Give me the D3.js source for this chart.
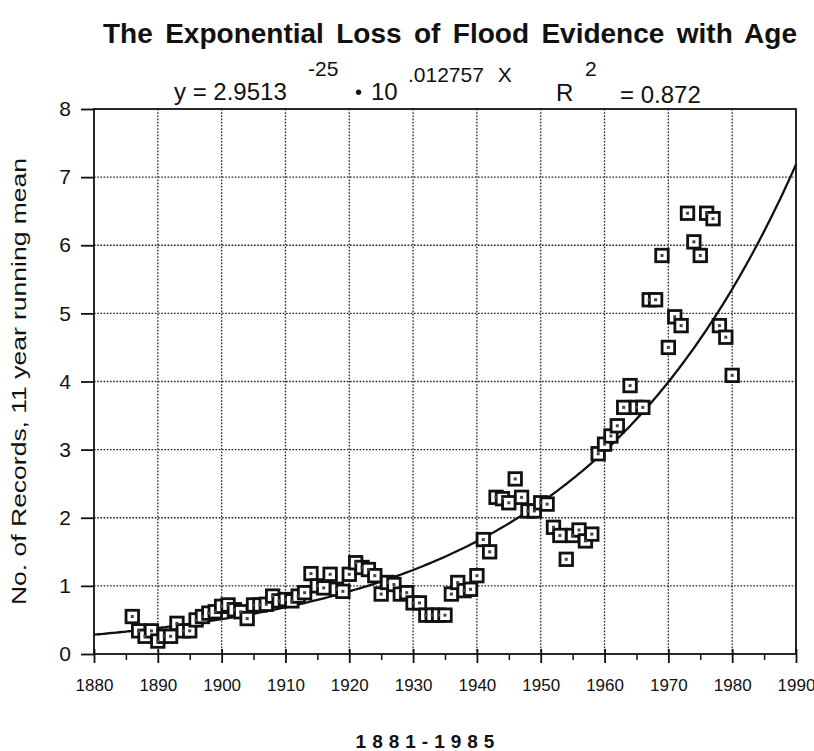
<!DOCTYPE html>
<html>
<head>
<meta charset="utf-8">
<script src="https://cdn.jsdelivr.net/npm/d3@7"></script>
<style>
  html, body { margin: 0; padding: 0; background: #fff; }
  svg { display: block; }
  text { font-family: "Liberation Sans", Arial, Helvetica, sans-serif; fill: #111; }
</style>
</head>
<body>
<script>
// 11-year running mean of flood records, centred years 1886-1980
const years = d3.range(1886, 1981);
const records = [
  0.55, 0.34, 0.26, 0.34, 0.19, 0.26, 0.26, 0.45, 0.34, 0.34,   // 1886-1895
  0.50, 0.55, 0.60, 0.62, 0.70, 0.72, 0.65, 0.62, 0.52, 0.72,   // 1896-1905
  0.72, 0.73, 0.85, 0.78, 0.80, 0.78, 0.85, 0.90, 1.18, 1.00,   // 1906-1915
  0.97, 1.17, 0.95, 0.92, 1.17, 1.34, 1.27, 1.24, 1.15, 0.88,   // 1916-1925
  1.05, 1.02, 0.88, 0.90, 0.75, 0.75, 0.57, 0.57, 0.57, 0.57,   // 1926-1935
  0.88, 1.05, 0.93, 0.95, 1.15, 1.68, 1.50, 2.30, 2.28, 2.22,   // 1936-1945
  2.57, 2.30, 2.10, 2.10, 2.22, 2.20, 1.86, 1.74, 1.39, 1.74,   // 1946-1955
  1.82, 1.66, 1.76, 2.94, 3.08, 3.20, 3.35, 3.62, 3.94, 3.62,   // 1956-1965
  3.62, 5.20, 5.20, 5.85, 4.50, 4.95, 4.82, 6.47, 6.05, 5.85,   // 1966-1975
  6.47, 6.39, 4.82, 4.65, 4.09                                   // 1976-1980
];

// Fitted curve: y = 2.9513e-25 * 10^(0.012757 x)
const fitA = 2.9513e-25;
const fitB = 0.012757;
const rSquared = 0.872;

const xTicks = d3.range(1880, 1991, 10);
const xMinorTicks = d3.range(1885, 1990, 10);
const yTicks = d3.range(0, 9, 1);

const titleText = "The Exponential Loss of Flood Evidence with Age";
const yLabelText = "No. of Records, 11 year running mean";
const periodText = "1881-1985";

const W = 814, H = 751;
const svg = d3.select("body").append("svg").attr("width", W).attr("height", H);

const x = d3.scaleLinear().domain([1880, 1990]).range([94, 796]);
const y = d3.scaleLinear().domain([0, 8]).range([654, 109]);

// dotted grid
const grid = svg.append("g").attr("stroke", "#222").attr("stroke-width", 1.3)
  .attr("stroke-dasharray", "1.6,1.6");
grid.selectAll("line.v").data(xTicks.slice(1, -1)).join("line")
  .attr("x1", d => x(d)).attr("x2", d => x(d)).attr("y1", y(8)).attr("y2", y(0));
grid.selectAll("line.h").data(yTicks.slice(1, -1)).join("line")
  .attr("x1", x(1880)).attr("x2", x(1990)).attr("y1", d => y(d)).attr("y2", d => y(d));

// frame
svg.append("rect").attr("x", x(1880)).attr("y", y(8))
  .attr("width", x(1990) - x(1880)).attr("height", y(0) - y(8))
  .attr("fill", "none").attr("stroke", "#111").attr("stroke-width", 1.8);

// x axis
const xAxis = d3.axisBottom(x).tickValues(xTicks).tickFormat(d3.format("d"))
  .tickSize(14).tickPadding(16);
const gx = svg.append("g").attr("transform", `translate(0,${y(0) - 5})`)
  .call(xAxis).attr("font-size", 17).attr("font-family", null);
gx.select(".domain").remove();
gx.selectAll(".tick line").attr("stroke", "#111").attr("stroke-width", 1.8);
gx.selectAll(".tick text").attr("fill", "#111");
const gxm = svg.append("g").attr("transform", `translate(0,${y(0)})`)
  .call(d3.axisBottom(x).tickValues(xMinorTicks).tickFormat("").tickSize(6));
gxm.select(".domain").remove();
gxm.selectAll(".tick line").attr("stroke", "#111").attr("stroke-width", 1.5);

// y axis
const yAxis = d3.axisLeft(y).tickValues(yTicks).tickFormat(d3.format("d"))
  .tickSize(13).tickPadding(10);
const gy = svg.append("g").attr("transform", `translate(${x(1880)},0)`)
  .call(yAxis).attr("font-size", 21).attr("font-family", null);
gy.select(".domain").remove();
gy.selectAll(".tick line").attr("stroke", "#111").attr("stroke-width", 1.8);
gy.selectAll(".tick text").attr("fill", "#111");

// fitted exponential curve
const fitYears = d3.range(1880, 1990.01, 0.5);
const line = d3.line().x(d => x(d)).y(d => y(fitA * Math.pow(10, fitB * d))).curve(d3.curveBasis);
svg.append("path").datum(fitYears).attr("d", line)
  .attr("fill", "none").attr("stroke", "#111").attr("stroke-width", 2.3);

// data markers
const s = 12.5;
const pts = svg.append("g");
const data = years.map((yr, i) => ({ yr, v: records[i] }));
pts.selectAll("rect.m").data(data).join("rect")
  .attr("x", d => x(d.yr) - s / 2).attr("y", d => y(d.v) - s / 2)
  .attr("width", s).attr("height", s)
  .attr("fill", "#fff").attr("stroke", "#111").attr("stroke-width", 2.8);
pts.selectAll("rect.c").data(data).join("rect")
  .attr("x", d => x(d.yr) - 1.5).attr("y", d => y(d.v) - 1.5)
  .attr("width", 3).attr("height", 3).attr("fill", "#444");

// title
const title = svg.append("text").attr("x", 103).attr("y", 43)
  .attr("font-size", 28).attr("font-weight", "bold").text(titleText);
const tw = title.node().getComputedTextLength();
const gaps = titleText.split(" ").length - 1;
title.attr("word-spacing", (694 - tw) / gaps);

// equation line
const eq = svg.append("g").attr("font-size", 24);
eq.append("text").attr("x", 174).attr("y", 100).text("y = 2.9513");
eq.append("text").attr("x", 308).attr("y", 76).attr("font-size", 21).text("-25");
eq.append("text").attr("x", 355).attr("y", 99).attr("font-size", 20).text("•");
eq.append("text").attr("x", 371).attr("y", 100).text("10");
eq.append("text").attr("x", 408).attr("y", 82).attr("font-size", 21)
  .attr("word-spacing", 8).text(".012757 X");
eq.append("text").attr("x", 556).attr("y", 101).text("R");
eq.append("text").attr("x", 585).attr("y", 76).attr("font-size", 21).text("2");
eq.append("text").attr("x", 620).attr("y", 103).text("= " + d3.format(".3f")(rSquared));

// y label
svg.append("text")
  .attr("transform", `translate(26,${(158 + 605) / 2}) rotate(-90)`)
  .attr("text-anchor", "middle").attr("font-size", 20)
  .attr("textLength", 447).attr("lengthAdjust", "spacingAndGlyphs")
  .text(yLabelText);

// period label
svg.append("text").attr("x", 428).attr("y", 748).attr("text-anchor", "middle")
  .attr("font-size", 19).attr("font-weight", "bold").attr("letter-spacing", 6)
  .text(periodText);
</script>
</body>
</html>
